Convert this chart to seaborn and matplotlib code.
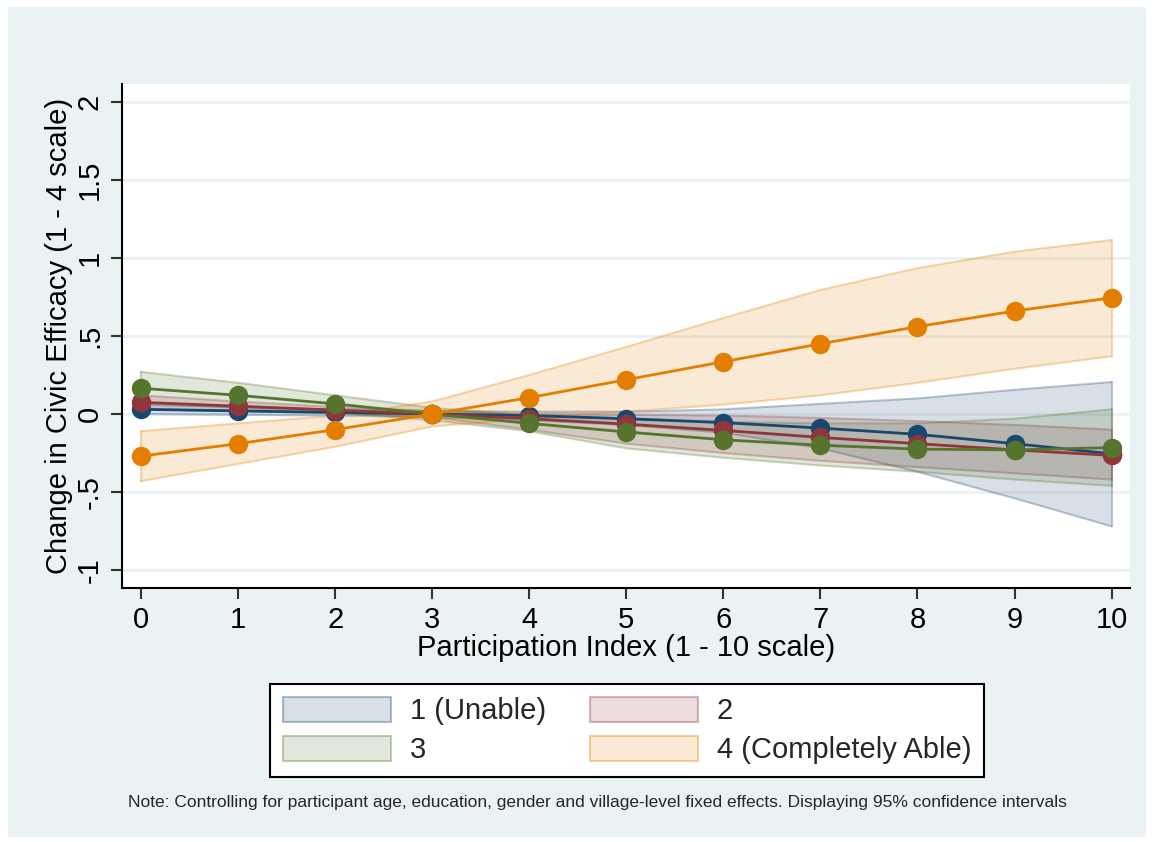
import matplotlib
matplotlib.use("Agg")
import matplotlib.pyplot as plt
from matplotlib.patches import Patch, Rectangle
import seaborn as sns
import pandas as pd
import numpy as np

# ---- data ----
participation = [0, 1, 2, 3, 4, 5, 6, 7, 8, 9, 10]
groups = ["1 (Unable)", "2", "3", "4 (Completely Able)"]

mean_1 = [0.03, 0.02, 0.01, 0.0, -0.01, -0.03, -0.055, -0.09, -0.13, -0.19, -0.255]
lo_1 = [0.0, -0.005, -0.01, -0.02, -0.04, -0.07, -0.12, -0.22, -0.37, -0.54, -0.72]
hi_1 = [0.06, 0.045, 0.03, 0.02, 0.015, 0.015, 0.03, 0.065, 0.10, 0.155, 0.205]

mean_2 = [0.075, 0.05, 0.025, 0.0, -0.03, -0.065, -0.105, -0.15, -0.19, -0.23, -0.265]
lo_2 = [0.03, 0.02, 0.005, -0.02, -0.10, -0.19, -0.25, -0.30, -0.34, -0.38, -0.42]
hi_2 = [0.12, 0.08, 0.045, 0.02, 0.0, -0.005, -0.01, -0.025, -0.045, -0.07, -0.10]

mean_3 = [0.165, 0.12, 0.065, 0.0, -0.06, -0.115, -0.165, -0.20, -0.225, -0.23, -0.215]
lo_3 = [0.07, 0.04, 0.01, -0.04, -0.11, -0.22, -0.28, -0.33, -0.37, -0.42, -0.46]
hi_3 = [0.27, 0.20, 0.12, 0.04, -0.01, -0.03, -0.05, -0.06, -0.06, -0.03, 0.03]

mean_4 = [-0.27, -0.19, -0.10, 0.0, 0.105, 0.22, 0.335, 0.45, 0.56, 0.66, 0.745]
lo_4 = [-0.43, -0.32, -0.21, -0.08, -0.03, 0.015, 0.06, 0.12, 0.20, 0.29, 0.37]
hi_4 = [-0.11, -0.06, -0.01, 0.08, 0.25, 0.43, 0.615, 0.795, 0.935, 1.04, 1.115]

y_ticks = [-1, -0.5, 0, 0.5, 1, 1.5, 2]
y_ticklabels = ["-1", "-.5", "0", ".5", "1", "1.5", "2"]

colors = ["#1a476f", "#90353b", "#55752f", "#e37e00"]
BG = "#eaf2f3"

means = [mean_1, mean_2, mean_3, mean_4]
los = [lo_1, lo_2, lo_3, lo_4]
his = [hi_1, hi_2, hi_3, hi_4]

rows = []
for g, m in zip(groups, means):
    for x, v in zip(participation, m):
        rows.append({"Participation": x, "Effect": v, "Group": g})
df = pd.DataFrame(rows)

sns.set_theme(style="white")
plt.rcParams["font.family"] = ["Liberation Sans", "DejaVu Sans"]

FS = 21

fig = plt.figure(figsize=(11.53, 8.42), dpi=100)
fig.patch.set_facecolor("white")
fig.patches.append(Rectangle((8 / 1153, 5 / 842), 1138 / 1153, 830 / 842,
                             transform=fig.transFigure, facecolor=BG,
                             edgecolor="none", zorder=-10))

ax = fig.add_axes([122 / 1153, 1 - 588 / 842, (1130 - 122) / 1153, (588 - 84) / 842])
ax.set_facecolor("white")

for y in y_ticks:
    ax.axhline(y, color=BG, lw=2, zorder=0)

# confidence bands
for c, lo, hi in zip(colors, los, his):
    ax.fill_between(participation, lo, hi, facecolor=c, alpha=0.17,
                    edgecolor="none", zorder=1)
    ax.plot(participation, lo, color=c, alpha=0.3, lw=1.5, zorder=1)
    ax.plot(participation, hi, color=c, alpha=0.3, lw=1.5, zorder=1)
    ax.plot([participation[0]] * 2, [lo[0], hi[0]], color=c, alpha=0.3, lw=1.5, zorder=1)
    ax.plot([participation[-1]] * 2, [lo[-1], hi[-1]], color=c, alpha=0.3, lw=1.5, zorder=1)

sns.lineplot(data=df, x="Participation", y="Effect", hue="Group",
             hue_order=groups, palette=colors, marker="o", markersize=14,
             markeredgewidth=0, linewidth=2, legend=False, ax=ax, zorder=3)

ax.set_xlim(-0.196, 10.19)
ax.set_ylim(-1.115, 2.115)
ax.set_xticks(participation)
ax.set_xticklabels([str(x) for x in participation], fontsize=FS)
ax.set_yticks(y_ticks)
ax.set_yticklabels(y_ticklabels, fontsize=FS, rotation=90, va="center")
ax.tick_params(axis="both", direction="out", length=8, width=1.5, color="#333333",
               labelcolor="black", bottom=True, left=True, pad=5)

for s in ["top", "right"]:
    ax.spines[s].set_visible(False)
for s in ["left", "bottom"]:
    ax.spines[s].set_color("black")
    ax.spines[s].set_linewidth(1.5)

ax.set_xlabel("Participation Index (1 - 10 scale)", fontsize=FS, labelpad=0, color="black")
ax.set_ylabel("Change in Civic Efficacy (1 - 4 scale)", fontsize=FS, labelpad=2, color="black")

handles = [Patch(facecolor=matplotlib.colors.to_rgba(c, 0.17),
                 edgecolor=matplotlib.colors.to_rgba(c, 0.35), lw=1.5) for c in colors]
# row-wise order: 1, 2 / 3, 4
order = [0, 2, 1, 3]
leg = fig.legend([handles[i] for i in order], [groups[i] for i in order],
                 loc="upper center", ncol=2,
                 bbox_to_anchor=(627 / 1153, 1 - 684 / 842), fontsize=FS,
                 frameon=True, fancybox=False, framealpha=1, facecolor="white",
                 handlelength=3.7, handleheight=0.92,
                 handletextpad=0.65, columnspacing=1.5, labelspacing=0.36,
                 borderpad=0.45, borderaxespad=0)
leg.get_frame().set_edgecolor("black")
leg.get_frame().set_linewidth(1.5)

fig.text(128 / 1153, 1 - 802 / 842,
         "Note: Controlling for participant age, education, gender and village-level fixed effects. "
         "Displaying 95% confidence intervals",
         fontsize=12.5, ha="left", va="center")

fig.savefig("out.png", dpi=100, facecolor="white")
